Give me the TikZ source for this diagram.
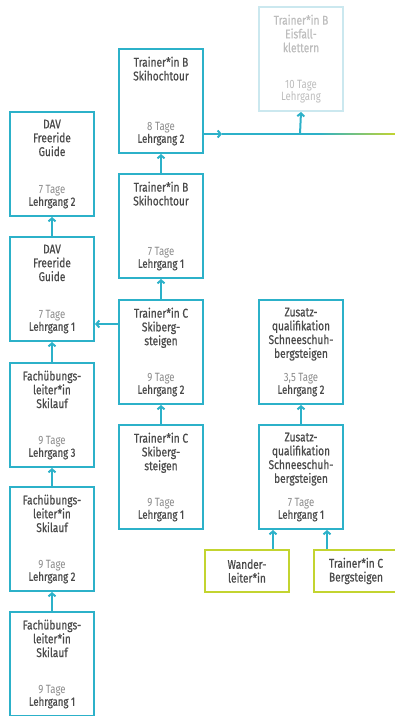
\documentclass[tikz,border=0pt]{standalone}
\usepackage{fontspec}
\newfontfamily\cf[FakeStretch=0.8]{Fira Sans}
\newfontfamily\cfb[FakeStretch=0.8,FakeBold=0.6]{Fira Sans}
\usetikzlibrary{arrows.meta,calc}
\definecolor{dblue}{HTML}{2CB1C9}
\definecolor{dgreen}{HTML}{C3D430}
\definecolor{tdark}{HTML}{4A4A4A}
\definecolor{tlight}{HTML}{8A8A8A}
\definecolor{fblue}{HTML}{CBE8EF}
\definecolor{ftext}{HTML}{BDBDBD}
\tikzset{
  box/.style={draw=dblue, line width=2pt, minimum width=84pt, minimum height=104pt, anchor=north west, inner sep=0pt},
  fbox/.style={box, draw=fblue},
  gbox/.style={draw=dgreen, line width=2pt, minimum width=84pt, minimum height=42pt, anchor=north west, inner sep=0pt},
  ttl/.style={anchor=north, align=center, inner sep=0pt, text=tdark, font=\cfb\fontsize{12.7}{13.8}\selectfont},
  gttl/.style={anchor=center, align=center, inner sep=0pt, text=tdark, font=\cfb\fontsize{12.7}{13.8}\selectfont},
  info/.style={anchor=south, align=center, inner sep=0pt, font=\cf\fontsize{12}{12}\selectfont},
  arr/.style={draw=dblue, line width=2pt, -{Straight Barb[length=3pt,width=7pt,line width=2pt]}},
}
\newcommand{\infotxt}[2]{{\color{tlight}#1}\\{\color{tdark}\cfb #2}}
\begin{document}
\begin{tikzpicture}[x=1pt,y=-1pt]
\useasboundingbox (0,0) rectangle (395,716);

% column 1
\node[box] (f1) at (9,611) {};
\node[box] (f2) at (9,486) {};
\node[box] (f3) at (9,362) {};
\node[box] (d1) at (9,236) {};
\node[box] (d2) at (9,111) {};
% column 2
\node[box] (c1) at (118,424) {};
\node[box] (c2) at (118,299) {};
\node[box] (b1) at (118,173) {};
\node[box] (b2) at (118,48) {};
% column 3
\node[fbox] (e) at (258,6) {};
\node[box] (z2) at (258,299) {};
\node[box] (z1) at (258,424) {};
% green
\node[gbox] (w) at (204,549) {};
\node[gbox] (t) at (313,549) {};

% titles
\node[ttl] (f1t) at ($(f1.north)+(0,8.5)$) {Fachübungs-\\leiter*in\\Skilauf};
\node[ttl] (f2t) at ($(f2.north)+(0,8.5)$) {Fachübungs-\\leiter*in\\Skilauf};
\node[ttl] (f3t) at ($(f3.north)+(0,8.5)$) {Fachübungs-\\leiter*in\\Skilauf};
\node[ttl] (d1t) at ($(d1.north)+(0,8.5)$) {DAV\\Freeride\\Guide};
\node[ttl] (d2t) at ($(d2.north)+(0,8.5)$) {DAV\\Freeride\\Guide};
\node[ttl] (c1t) at ($(c1.north)+(0,8.5)$) {Trainer*in C\\Skiberg-\\steigen};
\node[ttl] (c2t) at ($(c2.north)+(0,8.5)$) {Trainer*in C\\Skiberg-\\steigen};
\node[ttl] (b1t) at ($(b1.north)+(0,8.5)$) {Trainer*in B\\Skihochtour};
\node[ttl] (b2t) at ($(b2.north)+(0,8.5)$) {Trainer*in B\\Skihochtour};
\node[ttl,text=ftext] (et) at ($(e.north)+(0,8.5)$) {Trainer*in B\\Eisfall-\\klettern};
\node[ttl] (z2t) at ($(z2.north)+(0,8.5)$) {Zusatz-\\qualifikation\\Schneeschuh-\\bergsteigen};
\node[ttl] (z1t) at ($(z1.north)+(0,8.5)$) {Zusatz-\\qualifikation\\Schneeschuh-\\bergsteigen};
\node[gttl] (wt) at (w.center) {Wander-\\leiter*in};
\node[gttl] (tt) at ($(t.center)+(0,0)$) {Trainer*in C\\Bergsteigen};

% info
\node[info] (f1i) at ($(f1.south)+(0,-8.5)$) {\infotxt{9 Tage}{Lehrgang 1}};
\node[info] (f2i) at ($(f2.south)+(0,-8.5)$) {\infotxt{9 Tage}{Lehrgang 2}};
\node[info] (f3i) at ($(f3.south)+(0,-8.5)$) {\infotxt{9 Tage}{Lehrgang 3}};
\node[info] (d1i) at ($(d1.south)+(0,-8.5)$) {\infotxt{7 Tage}{Lehrgang 1}};
\node[info] (d2i) at ($(d2.south)+(0,-8.5)$) {\infotxt{7 Tage}{Lehrgang 2}};
\node[info] (c1i) at ($(c1.south)+(0,-8.5)$) {\infotxt{9 Tage}{Lehrgang 1}};
\node[info] (c2i) at ($(c2.south)+(0,-8.5)$) {\infotxt{9 Tage}{Lehrgang 2}};
\node[info] (b1i) at ($(b1.south)+(0,-8.5)$) {\infotxt{7 Tage}{Lehrgang 1}};
\node[info] (b2i) at ($(b2.south)+(0,-8.5)$) {\infotxt{8 Tage}{Lehrgang 2}};
\node[info,text=ftext] (ei) at ($(e.south)+(0,-8.5)$) {10 Tage\\Lehrgang};
\node[info] (z2i) at ($(z2.south)+(0,-8.5)$) {\infotxt{3,5 Tage}{Lehrgang 2}};
\node[info] (z1i) at ($(z1.south)+(0,-8.5)$) {\infotxt{7 Tage}{Lehrgang 1}};

% connectors
\draw[arr] (f1.north) -- (f2.south);
\draw[arr] (f2.north) -- (f3.south);
\draw[arr] (f3.north) -- (d1.south);
\draw[arr] (d1.north) -- (d2.south);
\draw[arr] (c1.north) -- (c2.south);
\draw[arr] (c2.north) -- (b1.south);
\draw[arr] (b1.north) -- (b2.south);
\draw[arr] (z1.north) -- (z2.south);
\draw[arr] (c2.west |- 0,324) -- (d1.east |- 0,324);
\draw[arr] (w.north -| 273,0) -- (z1.south -| 273,0);
\draw[arr] (t.north -| 327,0) -- (z1.south -| 327,0);

\coordinate (bt) at (222,134);
\coordinate (ej) at (300,134);
\coordinate (gs) at (318,134);
\coordinate (re) at (395,134);
\draw[arr] (b2.east |- bt) -- (bt);
\draw[dblue, line width=1.6pt] (bt) -- (gs);
\shade[left color=dblue, right color=dgreen] ($(gs)+(0,-0.8)$) rectangle ($(re)+(0,0.8)$);
\draw[arr] (ej) -- (e.south);
\end{tikzpicture}
\end{document}
